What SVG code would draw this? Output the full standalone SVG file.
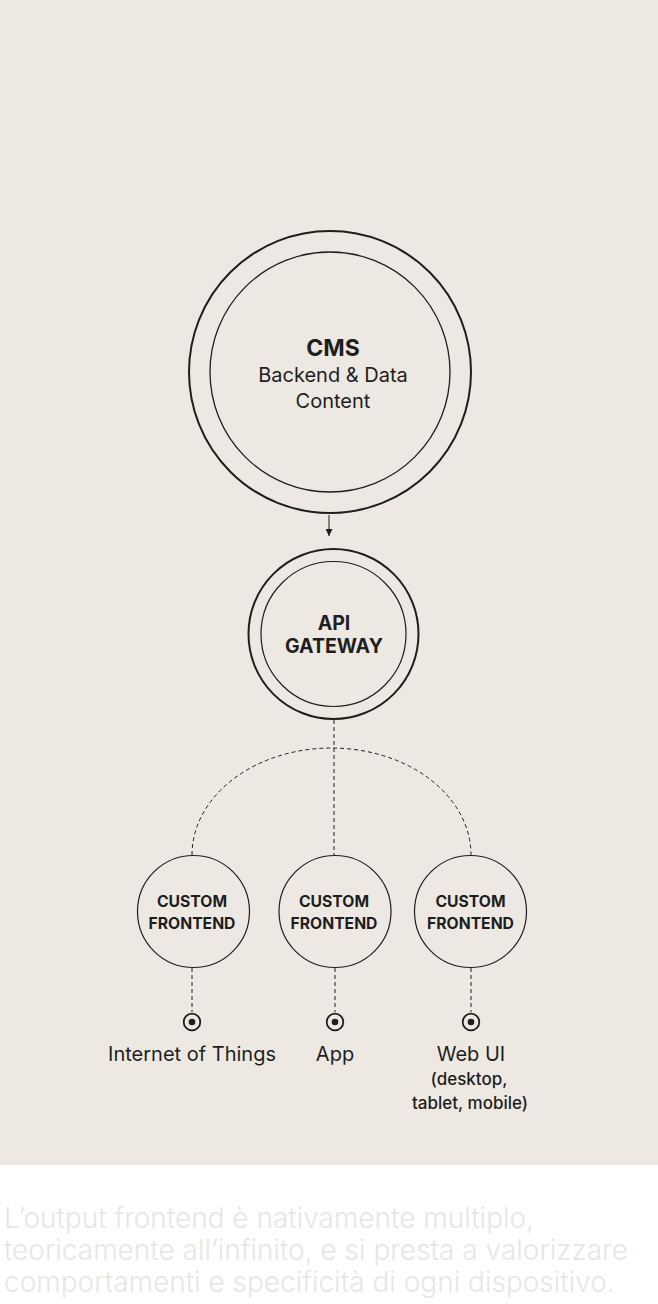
<svg xmlns="http://www.w3.org/2000/svg" width="658" height="1304" viewBox="0 0 658 1304">
<style>
.ring{fill:none;stroke:#1e1e1e}
.t{font-family:Inter,"Noto Sans","Liberation Sans",sans-serif;fill:#1e1e1e;text-anchor:middle}
.b{font-weight:700}
.dash{fill:none;stroke:#1e1e1e;stroke-width:1;stroke-dasharray:4 3}
.cap{font-family:Inter,"Noto Sans","Liberation Sans",sans-serif;font-weight:300;font-size:28px;fill:#e8e6e3}
</style>
<defs>
<marker id="ah" viewBox="0 0 8 8" refX="8" refY="4" markerWidth="7" markerHeight="7" orient="auto" markerUnits="userSpaceOnUse">
<path d="M0,0 L8,4 L0,8 Z" fill="#1e1e1e"/>
</marker>
</defs>
<rect x="0" y="0" width="658" height="1165" fill="#ede9e2"/>
<rect x="0" y="1165" width="658" height="139" fill="#ffffff"/>
<g id="connectors">
<line x1="329" y1="515" x2="329" y2="536" stroke="#1e1e1e" stroke-width="1" marker-end="url(#ah)"/>
<line class="dash" x1="334" y1="720" x2="334" y2="855"/>
<path class="dash" d="M192,855 A139.5,107 0 0 1 471,855"/>
<line class="dash" x1="192" y1="968" x2="192" y2="1012"/>
<line class="dash" x1="335" y1="968" x2="335" y2="1012"/>
<line class="dash" x1="471" y1="968" x2="471" y2="1012"/>
</g>
<g id="cms">
<circle class="ring" cx="330" cy="372" r="141" stroke-width="2"/>
<circle class="ring" cx="330" cy="372" r="120" stroke-width="1.3"/>
<text class="t b" x="333" y="356" font-size="23">CMS</text>
<text class="t" x="333" y="382" font-size="20">Backend &amp; Data</text>
<text class="t" x="333" y="408" font-size="20">Content</text>
</g>
<g id="api-gateway">
<circle class="ring" cx="333.5" cy="634" r="85" stroke-width="2"/>
<circle class="ring" cx="333.5" cy="634" r="72.5" stroke-width="1.2"/>
<text class="t b" x="334" y="630" font-size="19.5">API</text>
<text class="t b" x="334" y="653" font-size="19.5">GATEWAY</text>
</g>
<g id="frontend-1">
<circle class="ring" cx="193.5" cy="911.5" r="56" stroke-width="1.2"/>
<text class="t b" x="192" y="907" font-size="15.7">CUSTOM</text>
<text class="t b" x="192" y="929" font-size="15.7">FRONTEND</text>
</g>
<g id="frontend-2">
<circle class="ring" cx="335" cy="911.5" r="56" stroke-width="1.2"/>
<text class="t b" x="334" y="907" font-size="15.7">CUSTOM</text>
<text class="t b" x="334" y="929" font-size="15.7">FRONTEND</text>
</g>
<g id="frontend-3">
<circle class="ring" cx="470.5" cy="911.5" r="56" stroke-width="1.2"/>
<text class="t b" x="470.5" y="907" font-size="15.7">CUSTOM</text>
<text class="t b" x="470.5" y="929" font-size="15.7">FRONTEND</text>
</g>
<g id="iot">
<circle class="ring" cx="192" cy="1022" r="8.3" stroke-width="1.8"/>
<circle cx="192" cy="1022" r="3.3" fill="#1e1e1e"/>
<text class="t" x="192" y="1061" font-size="20">Internet of Things</text>
</g>
<g id="app">
<circle class="ring" cx="335" cy="1022" r="8.3" stroke-width="1.8"/>
<circle cx="335" cy="1022" r="3.3" fill="#1e1e1e"/>
<text class="t" x="335" y="1061" font-size="20">App</text>
</g>
<g id="web-ui">
<circle class="ring" cx="471" cy="1022" r="8.3" stroke-width="1.8"/>
<circle cx="471" cy="1022" r="3.3" fill="#1e1e1e"/>
<text class="t" x="471" y="1061" font-size="20">Web UI</text>
<text class="t" x="469" y="1085" font-size="17" font-weight="500">(desktop,</text>
<text class="t" x="470" y="1109" font-size="17" font-weight="500">tablet, mobile)</text>
</g>
<g id="caption">
<text class="cap" x="4" y="1228">L’output frontend è nativamente multiplo,</text>
<text class="cap" x="4" y="1260">teoricamente all’infinito, e si presta a valorizzare</text>
<text class="cap" x="4" y="1292">comportamenti e specificità di ogni dispositivo.</text>
</g>
</svg>
